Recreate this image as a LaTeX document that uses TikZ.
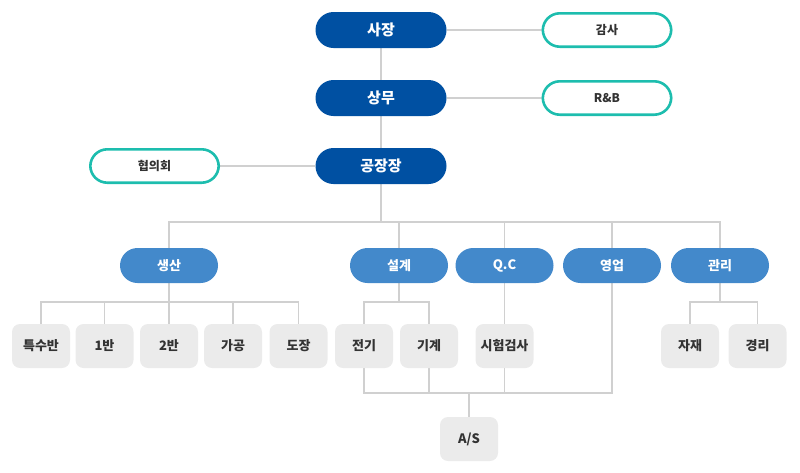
\documentclass[tikz,border=0pt]{standalone}
\usepackage{fontspec}
\setmainfont{Noto Sans CJK KR}
\usepackage{tikz}
\usetikzlibrary{positioning,backgrounds}
\definecolor{topblue}{HTML}{0050A2}
\definecolor{deptblue}{HTML}{4389CB}
\definecolor{sideteal}{HTML}{1DBDAE}
\definecolor{teamgray}{HTML}{EBEBEB}
\definecolor{linegray}{HTML}{D0D0D0}
\definecolor{textdark}{HTML}{333333}
\tikzset{
  topbox/.style={rectangle, rounded corners=18pt, fill=topblue, text=white,
    minimum width=131pt, minimum height=36pt, font=\bfseries\fontsize{15}{15}\selectfont},
  sidebox/.style={rectangle, rounded corners=17pt, draw=sideteal, line width=2.6pt, fill=white,
    text=textdark, minimum width=128.4pt, minimum height=33.4pt, font=\bfseries\fontsize{12}{12}\selectfont},
  deptbox/.style={rectangle, rounded corners=17.5pt, fill=deptblue, text=white,
    minimum width=98pt, minimum height=35pt, font=\bfseries\fontsize{13}{13}\selectfont},
  teambox/.style={rectangle, rounded corners=8pt, fill=teamgray, text=textdark,
    minimum width=58pt, minimum height=44pt, font=\bfseries\fontsize{13}{13}\selectfont},
  link/.style={draw=linegray, line width=1.2pt}
}
\begin{document}
\begin{tikzpicture}[x=1pt, y=-1pt]
  \useasboundingbox (0,0) rectangle (800,472);
  % Top chain
  \node[topbox] (sajang) at (381,30) {사장};
  \node[topbox] (sangmu) at (381,98) {상무};
  \node[topbox] (gongjang) at (381,166) {공장장};
  \node[sidebox] (gamsa) at (607,30) {감사};
  \node[sidebox] (rnb) at (607,98) {R\&B};
  \node[sidebox] (hyeop) at (154.5,166) {협의회};
  % Departments
  \node[deptbox] (saengsan) at (169,265.5) {생산};
  \node[deptbox] (seolgye) at (399,265.5) {설계};
  \node[deptbox] (qc) at (504.5,265.5) {Q.C};
  \node[deptbox] (yeongeop) at (612,265.5) {영업};
  \node[deptbox] (gwanri) at (720,265.5) {관리};
  % Teams
  \node[teambox] (teuksu) at (41,346) {특수반};
  \node[teambox] (ban1) at (104.5,346) {1반};
  \node[teambox] (ban2) at (169,346) {2반};
  \node[teambox] (gagong) at (233,346) {가공};
  \node[teambox] (dojang) at (298.5,346) {도장};
  \node[teambox] (jeongi) at (364,346) {전기};
  \node[teambox] (gigye) at (429,346) {기계};
  \node[teambox] (siheom) at (504.5,346) {시험검사};
  \node[teambox] (jajae) at (690,346) {자재};
  \node[teambox] (gyeongri) at (757.5,346) {경리};
  \node[teambox] (as) at (469,439) {A/S};
  \coordinate (deptbus) at (381,222);
  \coordinate (prodbus) at (169,302);
  \coordinate (desbus) at (399,302);
  \coordinate (admbus) at (720,302);
  \coordinate (asbus) at (469,393);
  \begin{scope}[on background layer]
    \draw[link] (sajang) -- (sangmu) -- (gongjang);
    \draw[link] (sajang) -- (gamsa);
    \draw[link] (sangmu) -- (rnb);
    \draw[link] (gongjang) -- (hyeop);
    % Department bus
    \draw[link] (gongjang) -- (deptbus);
    \draw[link] (saengsan.north) |- (deptbus) -| (gwanri.north);
    \foreach \d in {seolgye,qc,yeongeop}
      \draw[link] (\d.north) -- (\d.north |- deptbus);
    % Team buses
    \draw[link] (saengsan) -- (ban2);
    \draw[link] (teuksu.north) |- (prodbus) -| (dojang.north);
    \foreach \t in {ban1,gagong}
      \draw[link] (\t.north) -- (\t.north |- prodbus);
    \draw[link] (seolgye) -- (desbus);
    \draw[link] (jeongi.north) |- (desbus) -| (gigye.north);
    \draw[link] (qc) -- (siheom);
    \draw[link] (gwanri) -- (admbus);
    \draw[link] (jajae.north) |- (admbus) -| (gyeongri.north);
    % A/S bus
    \draw[link] (jeongi.south) |- (asbus) -| (yeongeop.south);
    \foreach \t in {gigye,siheom}
      \draw[link] (\t.south) -- (\t.south |- asbus);
    \draw[link] (as) -- (asbus);
  \end{scope}
\end{tikzpicture}
\end{document}
